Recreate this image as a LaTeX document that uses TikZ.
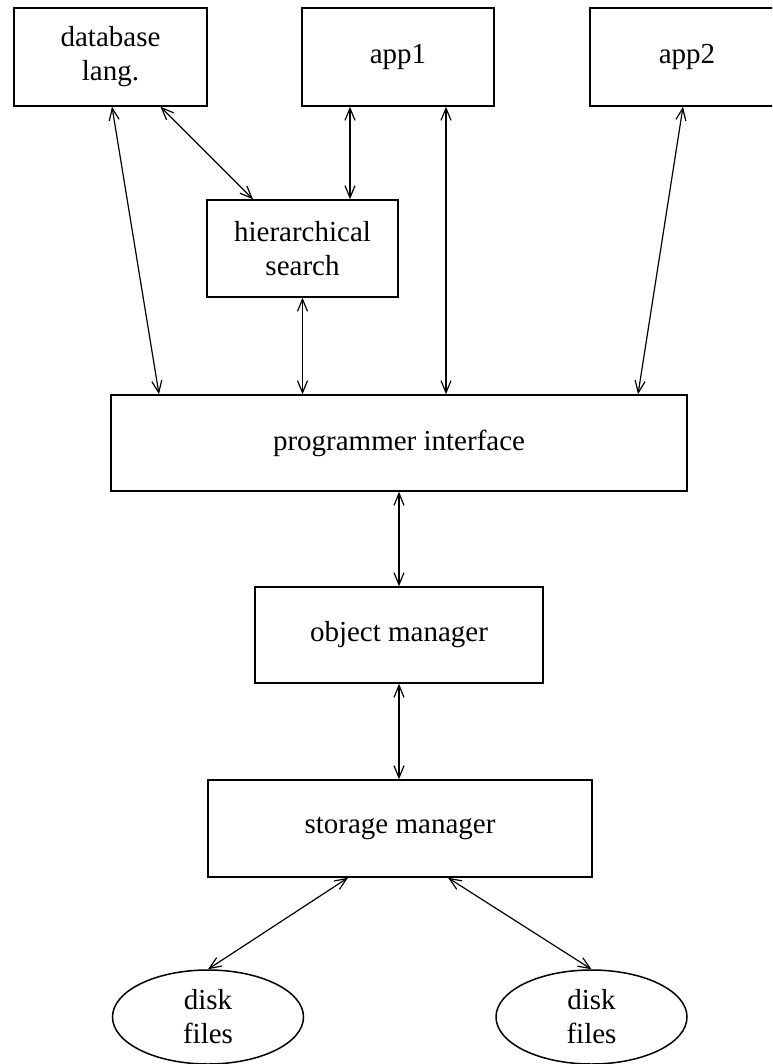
\documentclass[tikz,border=0pt]{standalone}
\usepackage{fontspec}
\setmainfont{Liberation Serif}
\usetikzlibrary{arrows.meta,shapes.geometric}
\begin{document}
\begin{tikzpicture}[x=1pt,y=-1pt,
  box/.style={draw,line width=1.5pt,inner sep=0pt,align=center,
    font=\fontsize{29}{34}\selectfont},
  disk/.style={draw,ellipse,line width=1.5pt,inner sep=0pt,align=center,
    minimum width=191pt,minimum height=94pt,font=\fontsize{29}{34}\selectfont},
  link/.style={line width=1.2pt,{Straight Barb[length=12pt,width=10pt]}-{Straight Barb[length=12pt,width=10pt]}}]
\useasboundingbox (0,0) rectangle (772,1064);
\clip (0,0) rectangle (772,1064);
\node[box,minimum width=193pt,minimum height=98pt] (db) at (110.5,57) {database\\lang.};
\node[box,minimum width=192pt,minimum height=98pt] (app1) at (398,57) {app1};
\node[box,minimum width=194pt,minimum height=98pt] (app2) at (687,57) {app2};
\node[box,minimum width=191pt,minimum height=97pt] (hs) at (302.5,248.5) {hierarchical\\search};
\node[box,minimum width=576pt,minimum height=96pt] (pi) at (399,443) {programmer interface};
\node[box,minimum width=288pt,minimum height=96pt] (om) at (399,635) {object manager};
\node[box,minimum width=384pt,minimum height=97pt] (sm) at (400,828.5) {storage manager};
\node[disk] (d1) at (208,1017) {disk\\files};
\node[disk] (d2) at (591.5,1017) {disk\\files};
\draw[link] ([xshift=1.5pt]db.south) -- ([xshift=-240pt]pi.north);
\draw[link] ([xshift=50pt]db.south) -- ([xshift=-49.5pt]hs.north);
\draw[link] ([xshift=-48pt]app1.south) -- ([xshift=47.5pt]hs.north);
\draw[link] ([xshift=48pt]app1.south) -- ([xshift=47pt]pi.north);
\draw[link] ([xshift=-4pt]app2.south) -- ([xshift=239pt]pi.north);
\draw[link] (hs.south) -- ([xshift=-96.5pt]pi.north);
\draw[link] (pi.south) -- (om.north);
\draw[link] (om.south) -- (om.south |- sm.north);
\draw[link] ([xshift=-52pt]sm.south) -- (d1.north);
\draw[link] ([xshift=48pt]sm.south) -- (d2.north);
\end{tikzpicture}
\end{document}
